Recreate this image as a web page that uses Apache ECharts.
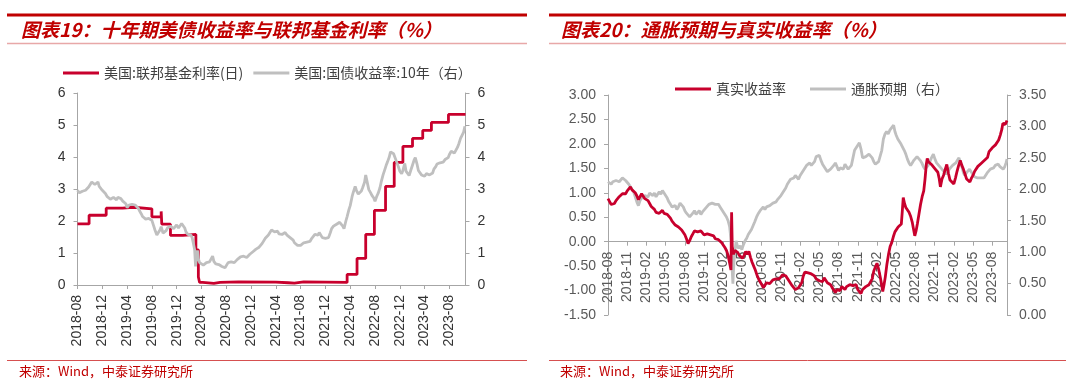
<!DOCTYPE html>
<html><head><meta charset="utf-8">
<script src="https://cdn.jsdelivr.net/npm/echarts@6/dist/echarts.min.js"></script>
<style>html,body{margin:0;padding:0;background:#fff;}#c{width:1080px;height:387px;}</style>
</head><body><div id="c"></div>
<script>
// ---------- data ----------
const leftTickLabels = ['2018-08','2018-12','2019-04','2019-08','2019-12','2020-04','2020-08','2020-12','2021-04','2021-08','2021-12','2022-04','2022-08','2022-12','2023-04','2023-08'];
const rightTickLabels = ['2018-08','2018-11','2019-02','2019-05','2019-08','2019-11','2020-02','2020-05','2020-08','2020-11','2021-02','2021-05','2021-08','2021-11','2022-02','2022-05','2022-08','2022-11','2023-02','2023-05','2023-08'];
// x = months since 2018-08-01
const fedFunds = [[0,1.91],[1.87,2.18],[4.63,2.40],[7.3,2.43],[9.0,2.38],[12.0,2.13],[13.5,2.30],[13.6,1.90],[15.0,1.55],[17.0,1.58],[19.1,1.10],[19.5,0.25],[19.7,0.08],[20.2,0.05],[22,0.08],[23,0.10],[26,0.09],[32,0.07],[34,0.06],[35,0.10],[36.5,0.08],[43.5,0.33],[45.1,0.83],[46.5,1.58],[47.9,2.33],[49.7,3.08],[51.1,3.83],[52.5,4.33],[54.05,4.58],[55.7,4.83],[57.1,5.08],[59.85,5.33],[62.6,5.33]];
const ust10y = [[0,2.96],[0.3,2.88],[0.5,2.86],[0.8,2.93],[1,2.90],[1.3,2.96],[1.5,3.00],[1.8,3.06],[2,3.08],[2.3,3.22],[2.5,3.18],[2.8,3.14],[3,3.20],[3.3,3.22],[3.5,3.08],[3.8,3.04],[4,2.96],[4.3,2.90],[4.5,2.86],[4.8,2.76],[5,2.74],[5.3,2.68],[5.5,2.70],[5.8,2.74],[6,2.70],[6.3,2.66],[6.5,2.74],[6.8,2.72],[7,2.70],[7.3,2.62],[7.5,2.66],[7.8,2.54],[8,2.42],[8.3,2.50],[8.5,2.56],[8.8,2.52],[9,2.54],[9.3,2.50],[9.5,2.44],[9.8,2.40],[10,2.32],[10.3,2.22],[10.5,2.14],[10.8,2.10],[11,2.06],[11.3,2.02],[11.5,2.08],[11.8,2.04],[12,2.02],[12.3,1.84],[12.5,1.72],[12.8,1.56],[13,1.50],[13.3,1.72],[13.5,1.82],[13.8,1.62],[14,1.56],[14.3,1.70],[14.5,1.78],[14.8,1.72],[15,1.84],[15.3,1.80],[15.5,1.76],[15.8,1.82],[16,1.88],[16.3,1.78],[16.5,1.80],[16.8,1.92],[17,1.86],[17.3,1.78],[17.5,1.66],[17.8,1.58],[18,1.60],[18.3,1.56],[18.5,1.48],[18.7,1.30],[18.9,1.10],[19.05,0.58],[19.2,0.90],[19.35,1.08],[19.5,0.82],[19.7,0.70],[20,0.66],[20.3,0.62],[20.5,0.64],[20.8,0.70],[21,0.66],[21.3,0.72],[21.5,0.68],[21.8,0.90],[22,0.74],[22.3,0.66],[22.5,0.70],[22.8,0.64],[23,0.62],[23.3,0.58],[23.5,0.60],[23.8,0.54],[24,0.56],[24.3,0.70],[24.5,0.68],[24.8,0.72],[25,0.68],[25.3,0.70],[25.5,0.76],[25.8,0.80],[26,0.76],[26.3,0.88],[26.5,0.84],[26.8,0.90],[27,0.94],[27.3,0.86],[27.5,0.90],[27.8,0.96],[28,0.92],[28.3,1.04],[28.5,1.08],[28.8,1.12],[29,1.10],[29.3,1.18],[29.5,1.14],[29.8,1.30],[30,1.36],[30.3,1.46],[30.5,1.42],[30.8,1.56],[31,1.62],[31.3,1.72],[31.5,1.74],[31.8,1.66],[32,1.62],[32.3,1.68],[32.5,1.60],[32.8,1.64],[33,1.58],[33.3,1.62],[33.5,1.64],[33.8,1.56],[34,1.52],[34.3,1.48],[34.5,1.44],[34.8,1.40],[35,1.32],[35.3,1.28],[35.5,1.24],[35.8,1.18],[36,1.24],[36.3,1.28],[36.5,1.32],[36.8,1.30],[37,1.34],[37.3,1.30],[37.5,1.36],[37.8,1.46],[38,1.52],[38.3,1.58],[38.5,1.62],[38.8,1.56],[39,1.64],[39.3,1.58],[39.5,1.48],[39.8,1.42],[40,1.46],[40.3,1.52],[40.5,1.48],[40.8,1.64],[41,1.76],[41.3,1.84],[41.5,1.78],[41.8,1.90],[42,1.86],[42.3,1.96],[42.5,2.00],[42.8,1.84],[43,1.76],[43.3,2.00],[43.5,2.14],[43.8,2.36],[44,2.48],[44.3,2.76],[44.5,2.90],[44.8,3.08],[45,2.96],[45.3,2.84],[45.5,2.78],[45.8,2.94],[46,3.04],[46.3,3.20],[46.5,3.44],[46.8,3.16],[47,2.98],[47.3,2.88],[47.5,2.80],[47.8,2.72],[48,2.62],[48.3,2.78],[48.5,2.86],[48.8,3.04],[49,3.22],[49.3,3.44],[49.5,3.56],[49.8,3.74],[50,3.84],[50.3,4.00],[50.5,4.16],[50.7,4.22],[51,4.10],[51.3,4.06],[51.5,3.84],[51.8,3.68],[52,3.56],[52.3,3.48],[52.5,3.58],[52.8,3.80],[53,3.56],[53.3,3.50],[53.5,3.42],[53.8,3.60],[54,3.72],[54.3,3.90],[54.5,3.98],[54.8,3.76],[55,3.58],[55.3,3.52],[55.5,3.44],[55.8,3.38],[56,3.40],[56.3,3.48],[56.5,3.52],[56.8,3.44],[57,3.38],[57.3,3.50],[57.5,3.62],[57.8,3.70],[58,3.78],[58.3,3.72],[58.5,3.82],[58.8,3.78],[59,3.84],[59.3,3.92],[59.5,3.88],[59.8,3.98],[60,4.08],[60.3,4.18],[60.5,4.22],[60.8,4.12],[61,4.18],[61.3,4.30],[61.5,4.40],[61.8,4.58],[62,4.66],[62.3,4.78],[62.5,4.96]];
const realYield = [[0,0.88],[0.25,0.82],[0.5,0.76],[0.75,0.80],[1,0.78],[1.25,0.84],[1.5,0.86],[1.75,0.92],[2,0.94],[2.25,0.98],[2.5,1.02],[2.75,0.98],[3,1.04],[3.25,1.08],[3.5,1.12],[3.75,1.06],[4,1.06],[4.25,1.00],[4.5,0.94],[4.75,0.86],[5,0.90],[5.25,0.98],[5.5,0.94],[5.75,0.88],[6,0.92],[6.25,0.84],[6.5,0.78],[6.75,0.72],[7,0.70],[7.25,0.66],[7.5,0.60],[7.75,0.64],[8,0.58],[8.25,0.62],[8.5,0.64],[8.75,0.58],[9,0.62],[9.25,0.56],[9.5,0.54],[9.75,0.48],[10,0.42],[10.25,0.38],[10.5,0.34],[10.75,0.36],[11,0.30],[11.25,0.28],[11.5,0.24],[11.75,0.20],[12,0.14],[12.25,0.06],[12.5,-0.04],[12.75,0.02],[13,0.10],[13.25,0.16],[13.5,0.22],[13.75,0.18],[14,0.20],[14.25,0.16],[14.5,0.22],[14.75,0.18],[15,0.14],[15.25,0.18],[15.5,0.16],[15.75,0.12],[16,0.14],[16.25,0.10],[16.5,0.12],[16.75,0.06],[17,0.08],[17.25,0.04],[17.5,0.00],[17.75,-0.02],[18,-0.06],[18.25,-0.12],[18.5,-0.18],[18.75,-0.28],[19,-0.44],[19.2,-0.58],[19.3,0.60],[19.4,-0.10],[19.6,-0.26],[19.8,-0.18],[20,-0.14],[20.25,-0.22],[20.5,-0.28],[20.75,-0.24],[21,-0.34],[21.25,-0.28],[21.5,-0.20],[21.75,-0.26],[22,-0.20],[22.25,-0.32],[22.5,-0.42],[22.75,-0.50],[23,-0.58],[23.25,-0.68],[23.5,-0.76],[23.75,-0.82],[24,-0.88],[24.25,-0.94],[24.5,-0.90],[24.75,-0.84],[25,-0.80],[25.25,-0.86],[25.5,-0.82],[25.75,-0.78],[26,-0.82],[26.25,-0.76],[26.5,-0.72],[26.75,-0.76],[27,-0.72],[27.25,-0.68],[27.5,-0.64],[27.75,-0.70],[28,-0.74],[28.25,-0.80],[28.5,-0.84],[28.75,-0.90],[29,-0.94],[29.25,-0.98],[29.5,-1.00],[29.75,-0.94],[30,-0.98],[30.25,-0.84],[30.5,-0.70],[30.75,-0.62],[31,-0.58],[31.25,-0.64],[31.5,-0.60],[31.75,-0.66],[32,-0.62],[32.25,-0.70],[32.5,-0.76],[32.75,-0.72],[33,-0.80],[33.25,-0.76],[33.5,-0.82],[33.75,-0.74],[34,-0.78],[34.25,-0.84],[34.5,-0.82],[34.75,-0.88],[35,-0.94],[35.25,-0.98],[35.5,-1.04],[35.75,-0.98],[36,-0.96],[36.25,-1.00],[36.5,-0.92],[36.75,-0.96],[37,-0.98],[37.25,-0.92],[37.5,-0.94],[37.75,-0.88],[38,-0.84],[38.25,-0.90],[38.5,-0.92],[38.75,-0.88],[39,-0.98],[39.25,-1.02],[39.5,-1.06],[39.75,-0.98],[40,-0.96],[40.25,-0.92],[40.5,-0.96],[40.75,-0.88],[41,-0.92],[41.25,-0.76],[41.5,-0.60],[41.75,-0.52],[42,-0.44],[42.25,-0.56],[42.5,-0.72],[42.7,-0.86],[42.9,-1.02],[43.1,-0.88],[43.3,-0.72],[43.55,-0.46],[43.8,-0.26],[44.05,-0.10],[44.3,-0.02],[44.55,0.10],[44.8,0.20],[45.05,0.24],[45.3,0.30],[45.55,0.34],[45.8,0.36],[45.95,0.62],[46.1,0.90],[46.3,0.78],[46.5,0.70],[46.75,0.66],[47,0.60],[47.25,0.52],[47.5,0.40],[47.7,0.26],[47.9,0.12],[48.1,0.22],[48.3,0.36],[48.55,0.56],[48.8,0.76],[49.05,0.92],[49.3,1.04],[49.5,1.28],[49.7,1.58],[49.85,1.70],[50,1.64],[50.25,1.68],[50.5,1.58],[50.75,1.62],[51,1.50],[51.25,1.54],[51.5,1.42],[51.7,1.30],[51.9,1.12],[52.15,1.28],[52.4,1.36],[52.65,1.48],[52.9,1.58],[53.15,1.40],[53.4,1.26],[53.7,1.24],[54,1.18],[54.25,1.30],[54.5,1.44],[54.75,1.56],[55,1.66],[55.25,1.56],[55.5,1.48],[55.75,1.38],[56,1.28],[56.25,1.24],[56.5,1.22],[56.75,1.30],[57,1.36],[57.25,1.44],[57.5,1.48],[57.75,1.54],[58,1.52],[58.25,1.60],[58.5,1.58],[58.75,1.66],[59,1.64],[59.25,1.72],[59.5,1.84],[59.75,1.88],[60,1.92],[60.25,1.96],[60.5,1.98],[60.75,2.02],[61,2.08],[61.25,2.18],[61.5,2.30],[61.65,2.42],[61.8,2.46],[62.05,2.40],[62.3,2.48]];
const breakeven = [[0,2.12],[0.25,2.10],[0.5,2.08],[0.75,2.12],[1,2.10],[1.25,2.14],[1.5,2.16],[1.75,2.12],[2,2.15],[2.25,2.18],[2.5,2.17],[2.75,2.14],[3,2.12],[3.25,2.08],[3.5,2.04],[3.75,2.00],[4,1.96],[4.25,1.88],[4.5,1.80],[4.75,1.74],[5,1.82],[5.25,1.86],[5.5,1.84],[5.75,1.90],[6,1.92],[6.25,1.88],[6.5,1.94],[6.75,1.92],[7,1.90],[7.25,1.94],[7.5,1.88],[7.75,1.92],[8,1.96],[8.25,1.92],[8.5,1.98],[8.75,1.94],[9,1.90],[9.25,1.86],[9.5,1.80],[9.75,1.76],[10,1.72],[10.25,1.70],[10.5,1.74],[10.75,1.68],[11,1.72],[11.25,1.78],[11.5,1.80],[11.75,1.72],[12,1.66],[12.25,1.62],[12.5,1.60],[12.75,1.56],[13,1.58],[13.25,1.62],[13.5,1.66],[13.75,1.60],[14,1.62],[14.25,1.66],[14.5,1.60],[14.75,1.64],[15,1.66],[15.25,1.70],[15.5,1.72],[15.75,1.76],[16,1.74],[16.25,1.78],[16.5,1.80],[16.75,1.76],[17,1.74],[17.25,1.76],[17.5,1.72],[17.75,1.68],[18,1.64],[18.25,1.60],[18.5,1.56],[18.75,1.50],[19,1.40],[19.2,1.20],[19.3,1.02],[19.4,0.70],[19.5,0.50],[19.6,0.72],[19.7,0.88],[19.85,1.04],[20,1.18],[20.2,1.10],[20.4,1.06],[20.65,1.10],[20.9,1.04],[21.15,1.12],[21.4,1.18],[21.65,1.22],[21.9,1.28],[22.15,1.32],[22.4,1.36],[22.65,1.42],[22.9,1.48],[23.2,1.56],[23.5,1.62],[23.75,1.66],[24,1.68],[24.25,1.72],[24.5,1.68],[24.75,1.72],[25,1.70],[25.25,1.74],[25.5,1.72],[25.75,1.78],[26,1.76],[26.25,1.80],[26.5,1.84],[26.75,1.86],[27,1.90],[27.25,1.94],[27.5,1.98],[27.75,2.02],[28,2.08],[28.25,2.12],[28.5,2.16],[28.75,2.14],[29,2.18],[29.25,2.22],[29.5,2.20],[29.75,2.16],[30,2.22],[30.25,2.26],[30.5,2.30],[30.75,2.34],[31,2.38],[31.25,2.36],[31.5,2.42],[31.75,2.38],[32,2.36],[32.25,2.44],[32.5,2.52],[32.75,2.50],[33,2.54],[33.25,2.46],[33.5,2.40],[33.75,2.36],[34,2.32],[34.25,2.28],[34.5,2.26],[34.75,2.32],[35,2.34],[35.25,2.38],[35.5,2.42],[35.75,2.36],[36,2.30],[36.25,2.34],[36.5,2.36],[36.75,2.32],[37,2.40],[37.25,2.36],[37.5,2.32],[37.75,2.30],[38,2.38],[38.25,2.50],[38.5,2.62],[38.75,2.66],[39,2.70],[39.25,2.74],[39.5,2.64],[39.75,2.50],[40,2.48],[40.25,2.52],[40.5,2.50],[40.75,2.56],[41,2.58],[41.25,2.50],[41.5,2.44],[41.75,2.40],[42,2.38],[42.25,2.44],[42.5,2.46],[42.75,2.62],[43,2.80],[43.25,2.88],[43.5,2.92],[43.75,2.88],[44,2.94],[44.3,2.98],[44.6,3.02],[44.8,2.92],[45,2.86],[45.25,2.80],[45.5,2.76],[45.75,2.72],[46,2.70],[46.25,2.62],[46.5,2.56],[46.75,2.48],[47,2.42],[47.25,2.38],[47.5,2.42],[47.75,2.46],[48,2.48],[48.25,2.52],[48.5,2.50],[48.75,2.46],[49,2.42],[49.25,2.36],[49.5,2.32],[49.75,2.34],[50,2.38],[50.25,2.44],[50.5,2.50],[50.8,2.56],[51.05,2.48],[51.3,2.42],[51.55,2.40],[51.8,2.36],[52.05,2.34],[52.3,2.30],[52.55,2.28],[52.8,2.24],[53.05,2.28],[53.3,2.32],[53.55,2.34],[53.8,2.38],[54.05,2.36],[54.3,2.42],[54.55,2.46],[54.8,2.50],[55.05,2.42],[55.3,2.34],[55.5,2.26],[55.7,2.22],[55.95,2.26],[56.2,2.28],[56.45,2.32],[56.7,2.30],[56.95,2.24],[57.2,2.20],[57.45,2.22],[57.7,2.18],[57.95,2.16],[58.2,2.18],[58.45,2.20],[58.7,2.18],[58.95,2.22],[59.2,2.26],[59.45,2.28],[59.7,2.32],[59.95,2.30],[60.2,2.34],[60.45,2.38],[60.7,2.36],[60.95,2.40],[61.2,2.36],[61.45,2.34],[61.7,2.32],[61.95,2.36],[62.15,2.42],[62.3,2.48]];

// ---------- style ----------
const RED = '#C8002D', GRAY = '#BFBFBF', TITLE_RED = '#C00000';
const NUM_FONT = '"Liberation Sans", Arial, sans-serif';
const CJK_FONT = '"Noto Sans CJK SC", sans-serif';
const axisLineStyle = {color:'#A6A6A6', width:1};

function yAxisCommon(pos, grid, min, max, interval, color, dec) {
  return {
    type:'value', gridIndex:grid, position:pos, min:min, max:max, interval:interval,
    splitLine:{show:false},
    axisLine:{show:true, lineStyle:axisLineStyle},
    axisTick:{show:true, inside:false, length:4, lineStyle:axisLineStyle},
    axisLabel:{fontSize:14, fontFamily:NUM_FONT, color:color, margin:12,
      formatter: v => dec ? v.toFixed(2) : String(v)}
  };
}

const chart = echarts.init(document.getElementById('c'), null, {renderer:'canvas'});
const option = {
  animation:false,
  backgroundColor:'#fff',
  legend:[
    {left:58, top:61, itemWidth:36, itemHeight:3, itemGap:10, icon:'rect',
     textStyle:{fontSize:14, fontFamily:CJK_FONT, color:'#404040'},
     data:['美国:联邦基金利率(日)','美国:国债收益率:10年（右）']},
    {left:670, top:77, itemWidth:36, itemHeight:3, itemGap:24, icon:'rect',
     textStyle:{fontSize:14, fontFamily:CJK_FONT, color:'#404040'},
     data:['真实收益率','通胀预期（右）']}
  ],
  grid:[
    {left:77.5, top:93, width:388, height:192},
    {left:608, top:95, width:399, height:220},
    // grid whose bottom edge is the zero line of the right chart's left axis; carries the date axis
    {left:608, top:95, width:399, height:146.7}
  ],
  xAxis:[
    {type:'value', gridIndex:0, min:0, max:62.6, interval:4,
     splitLine:{show:false},
     axisLine:{show:true, onZero:false, lineStyle:axisLineStyle},
     axisTick:{show:true, length:4, lineStyle:axisLineStyle, customValues: leftTickLabels.map((_, i) => i*4)},
     axisLabel:{rotate:90, fontSize:14, fontFamily:NUM_FONT, color:'#333', margin:10,
       customValues: leftTickLabels.map((_, i) => i*4),
       formatter: v => leftTickLabels[Math.round(v/4)] || ''}},
    {type:'value', gridIndex:1, min:0, max:62.3, show:false},
    {type:'value', gridIndex:2, min:0, max:62.3, interval:3,
     splitLine:{show:false},
     axisLine:{show:true, onZero:false, lineStyle:axisLineStyle},
     axisTick:{show:true, length:4, lineStyle:axisLineStyle, customValues: rightTickLabels.map((_, i) => i*3)},
     axisLabel:{rotate:90, fontSize:14, fontFamily:NUM_FONT, color:'#595959', margin:10,
       customValues: rightTickLabels.map((_, i) => i*3),
       formatter: v => rightTickLabels[Math.round(v/3)] || ''}}
  ],
  yAxis:[
    yAxisCommon('left', 0, 0, 6, 1, '#333', false),
    yAxisCommon('right', 0, 0, 6, 1, '#333', false),
    yAxisCommon('left', 1, -1.5, 3, 0.5, '#595959', true),
    yAxisCommon('right', 1, 0, 3.5, 0.5, '#595959', true),
    {type:'value', gridIndex:2, min:0, max:1, show:false}
  ],
  series:[
    {name:'美国:联邦基金利率(日)', type:'line', xAxisIndex:0, yAxisIndex:0, step:'end',
     data:fedFunds, showSymbol:false, color:RED, lineStyle:{width:2.8, color:RED}, z:2},
    {name:'美国:国债收益率:10年（右）', type:'line', xAxisIndex:0, yAxisIndex:1,
     data:ust10y, showSymbol:false, color:GRAY, lineStyle:{width:2.8, color:GRAY}, z:3},
    {name:'真实收益率', type:'line', xAxisIndex:1, yAxisIndex:2,
     data:realYield, showSymbol:false, color:RED, lineStyle:{width:2.8, color:RED}, z:4},
    {name:'通胀预期（右）', type:'line', xAxisIndex:1, yAxisIndex:3,
     data:breakeven, showSymbol:false, color:GRAY, lineStyle:{width:2.8, color:GRAY}, z:3}
  ],
  graphic:[
    {type:'line', shape:{x1:7, y1:15, x2:527, y2:15}, style:{stroke:TITLE_RED, lineWidth:3}},
    {type:'line', shape:{x1:549, y1:15, x2:1066, y2:15}, style:{stroke:TITLE_RED, lineWidth:3}},
    {type:'line', shape:{x1:7, y1:43.5, x2:527, y2:43.5}, style:{stroke:'#E8A8A8', lineWidth:1.5}},
    {type:'line', shape:{x1:549, y1:43.5, x2:1066, y2:43.5}, style:{stroke:'#E8A8A8', lineWidth:1.5}},
    {type:'line', shape:{x1:7, y1:360.5, x2:527, y2:360.5}, style:{stroke:'#D65050', lineWidth:1}},
    {type:'line', shape:{x1:549, y1:360.5, x2:1066, y2:360.5}, style:{stroke:'#D65050', lineWidth:1}},
    {type:'text', x:21, y:30, style:{text:'图表19：十年期美债收益率与联邦基金利率（%）', fill:TITLE_RED,
      fontSize:19, fontWeight:'bold', fontStyle:'italic', fontFamily:CJK_FONT, verticalAlign:'middle'}},
    {type:'text', x:561, y:30, style:{text:'图表20：通胀预期与真实收益率（%）', fill:TITLE_RED,
      fontSize:19, fontWeight:'bold', fontStyle:'italic', fontFamily:CJK_FONT, verticalAlign:'middle'}},
    {type:'text', x:19, y:371, style:{text:'来源：Wind，中泰证券研究所', fill:TITLE_RED,
      fontSize:13, fontFamily:CJK_FONT, verticalAlign:'middle'}},
    {type:'text', x:560, y:371, style:{text:'来源：Wind，中泰证券研究所', fill:TITLE_RED,
      fontSize:13, fontFamily:CJK_FONT, verticalAlign:'middle'}}
  ]
};
chart.setOption(option);
</script>
</body></html>
